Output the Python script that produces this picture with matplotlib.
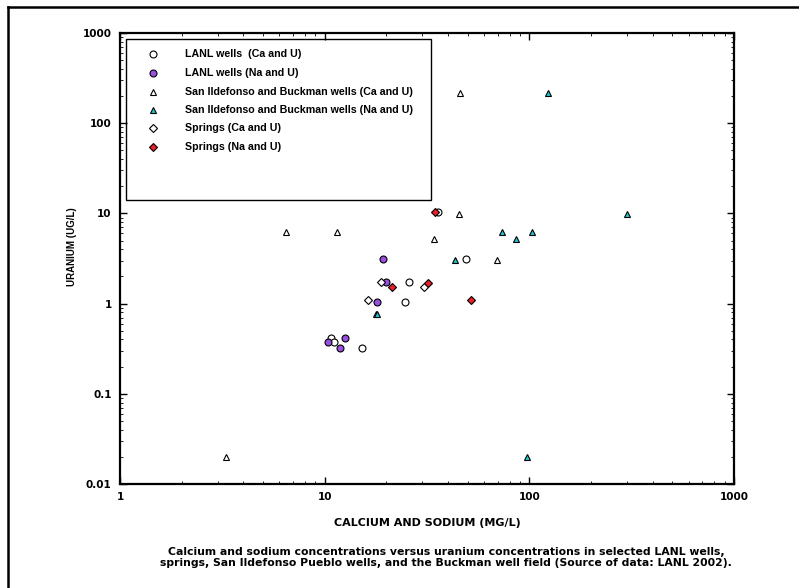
import matplotlib.pyplot as plt
from matplotlib.lines import Line2D
from matplotlib.patches import Rectangle

plt.rcParams['font.family'] = ['DejaVu Sans']
plt.rcParams['font.weight'] = 'bold'

# LANL wells (Ca and U)
lanl_ca_x = [35.8, 48.9, 25.9, 24.6, 10.7, 11.1, 15.3]
lanl_ca_u = [10.3, 3.1, 1.75, 1.03, 0.416, 0.378, 0.319]

# LANL wells (Na and U)
lanl_na_x = [19.3, 19.9, 18.0, 10.4, 12.5, 11.9]
lanl_na_u = [3.12, 1.75, 1.03, 0.378, 0.419, 0.324]

# San Ildefonso and Buckman wells (Ca and U)
sib_ca_x = [45.8, 45.3, 6.45, 11.5, 34.3, 69.8, 17.8, 3.3]
sib_ca_u = [218, 9.85, 6.27, 6.17, 5.2, 3.04, 0.76, 0.02]

# San Ildefonso and Buckman wells (Na and U)
sib_na_x = [123.8, 298.7, 73.2, 85.7, 102.6, 43.5, 18.1, 97]
sib_na_u = [218, 9.85, 6.27, 5.2, 6.17, 3.04, 0.76, 0.02]

# Springs (Ca and U)
spr_ca_x = [18.8, 30.6, 16.2]
spr_ca_u = [1.72, 1.53, 1.10]

# Springs (Na and U)
spr_na_x = [34.6, 21.3, 32.1, 51.7]
spr_na_u = [10.3, 1.53, 1.71, 1.10]

fig = plt.figure(figsize=(7.99, 5.88), dpi=100)
ax = fig.add_axes([0.1502, 0.1769, 0.7685, 0.767])

kw = dict(linestyle='none', markeredgecolor='black', markeredgewidth=0.8)
series = [
    (lanl_ca_x, lanl_ca_u, 'o', 'white', 'LANL wells  (Ca and U)'),
    (lanl_na_x, lanl_na_u, 'o', '#9b4fe0', 'LANL wells (Na and U)'),
    (sib_ca_x, sib_ca_u, '^', 'white', 'San Ildefonso and Buckman wells (Ca and U)'),
    (sib_na_x, sib_na_u, '^', '#1ec8d2', 'San Ildefonso and Buckman wells (Na and U)'),
    (spr_ca_x, spr_ca_u, 'D', 'white', 'Springs (Ca and U)'),
    (spr_na_x, spr_na_u, 'D', '#e8202a', 'Springs (Na and U)'),
]

# legend box drawn by hand (it has a lot of empty space at the bottom)
ax.add_patch(Rectangle((0.0098, 0.630), 0.497, 0.3567, transform=ax.transAxes,
                       facecolor='white', edgecolor='black', linewidth=1.0, zorder=1))
leg_rows = [54, 73, 92, 110, 128, 147]  # pixel rows of the legend entries

for (x, y, m, c, lab), row in zip(series, leg_rows):
    s = 4 if m == 'D' else 5
    ax.plot(x, y, marker=m, markerfacecolor=c, markersize=s, zorder=3, **kw)
    ya = (484 - row) / 451
    ax.plot([0.0537], [ya], marker=m, markerfacecolor=c, markersize=s,
            transform=ax.transAxes, zorder=3, **kw)
    ax.text(0.1059, ya, lab, transform=ax.transAxes, va='center', ha='left',
            fontsize=7.7, fontweight='bold', family='Liberation Sans', zorder=3)

ax.set_xscale('log')
ax.set_yscale('log')
ax.set_xlim(1, 1000)
ax.set_ylim(0.01, 1000)
ax.set_xticks([1, 10, 100, 1000])
ax.set_xticklabels(['1', '10', '100', '1000'])
ax.set_yticks([0.01, 0.1, 1, 10, 100, 1000])
ax.set_yticklabels(['0.01', '0.1', '1', '10', '100', '1000'])
ax.tick_params(which='both', direction='in', top=True, right=True, labelsize=7.5)
ax.tick_params(which='major', length=5, width=1)
ax.tick_params(which='minor', length=2.5, width=0.6)
ax.tick_params(axis='x', pad=6)
ax.tick_params(axis='y', pad=6)
for sp in ax.spines.values():
    sp.set_linewidth(1.6)

fig.text(427 / 799, 1 - 523 / 588, 'CALCIUM AND SODIUM (MG/L)', ha='center', va='center',
         fontsize=8, fontweight='bold')
fig.text(72 / 799, 1 - 247 / 588, 'URANIUM (UG/L)', ha='center', va='center',
         rotation=90, fontsize=7, fontweight='bold', family='Liberation Sans')

fig.text(446 / 799, 1 - 557.5 / 588,
         'Calcium and sodium concentrations versus uranium concentrations in selected LANL wells,\n'
         'springs, San Ildefonso Pueblo wells, and the Buckman well field (Source of data: LANL 2002).',
         ha='center', va='center', fontsize=7.8, fontweight='bold', linespacing=1.05)

# partial frame around the figure (left and top edges)
fig.add_artist(Line2D([0.010, 0.010], [0.0, 0.988], transform=fig.transFigure,
                      color='black', linewidth=1.8))
fig.add_artist(Line2D([0.010, 1.0], [0.988, 0.988], transform=fig.transFigure,
                      color='black', linewidth=1.8))

fig.savefig('out.png', dpi=100)
